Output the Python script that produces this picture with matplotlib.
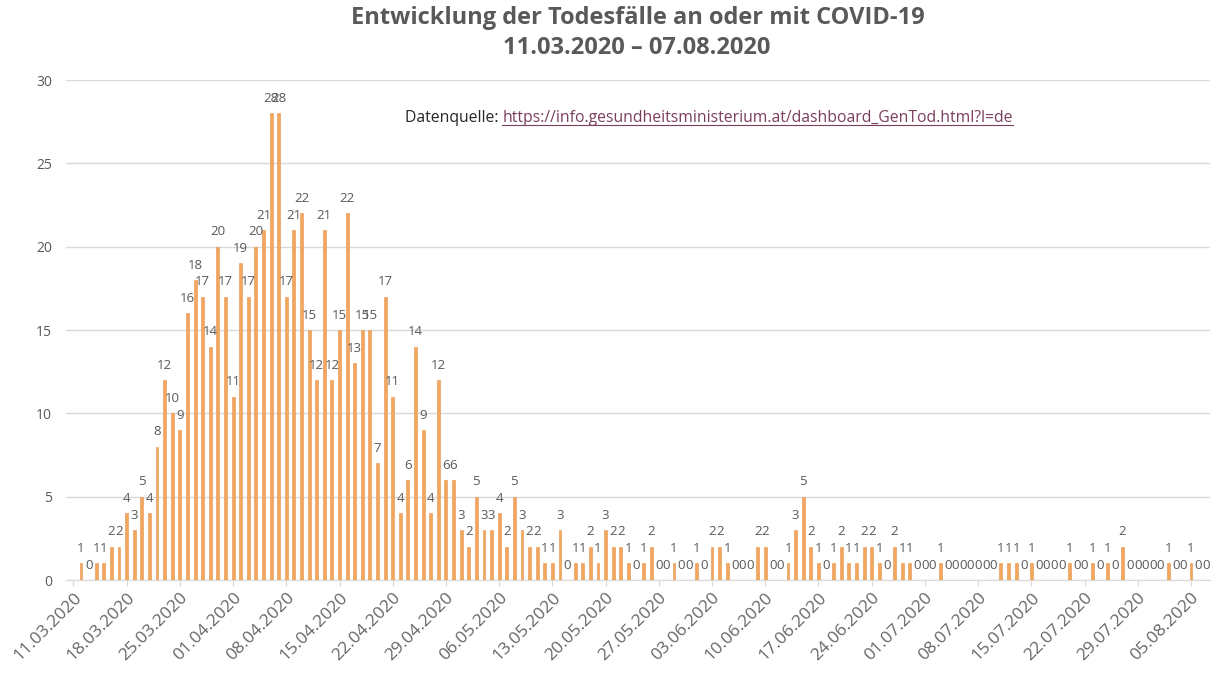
import numpy as np
import pandas as pd
import matplotlib
matplotlib.use('Agg')
import matplotlib.pyplot as plt
from matplotlib.lines import Line2D

# Tägliche Todesfälle ab 12.03.2020 bis 07.08.2020
start_date = '2020-03-12'
deaths = [1, 0, 1, 1, 2, 2, 4, 3, 5, 4,
          8, 12, 10, 9, 16, 18, 17, 14, 20, 17,
          11, 19, 17, 20, 21, 28, 28, 17, 21, 22,
          15, 12, 21, 12, 15, 22, 13, 15, 15, 7,
          17, 11, 4, 6, 14, 9, 4, 12, 6, 6,
          3, 2, 5, 3, 3, 4, 2, 5, 3, 2,
          2, 1, 1, 3, 0, 1, 1, 2, 1, 3,
          2, 2, 1, 0, 1, 2, 0, 0, 1, 0,
          0, 1, 0, 2, 2, 1, 0, 0, 0, 2,
          2, 0, 0, 1, 3, 5, 2, 1, 0, 1,
          2, 1, 1, 2, 2, 1, 0, 2, 1, 1,
          0, 0, 0, 1, 0, 0, 0, 0, 0, 0,
          0, 1, 1, 1, 0, 1, 0, 0, 0, 0,
          1, 0, 0, 1, 0, 1, 0, 2, 0, 0,
          0, 0, 0, 1, 0, 0, 1, 0, 0]

# Achsenbeschriftung: wöchentlich ab 11.03.2020
tick_start = '2020-03-11'
tick_end = '2020-08-05'

title_1 = 'Entwicklung der Todesfälle an oder mit COVID-19'
title_2 = '11.03.2020 \u2013 07.08.2020'
source_label = 'Datenquelle: '
source_url = 'https://info.gesundheitsministerium.at/dashboard_GenTod.html?l=de'

plt.rcParams['font.family'] = ['Open Sans', 'DejaVu Sans']
grey = '#595959'

dates = pd.date_range(start_date, periods=len(deaths), freq='D')
origin = pd.Timestamp(tick_start)
x = (dates - origin).days.values

tick_dates = pd.date_range(tick_start, tick_end, freq='7D')
tick_x = (tick_dates - origin).days.values
tick_labels = [d.strftime('%d.%m.%Y') for d in tick_dates]

fig = plt.figure(figsize=(12.19, 6.84), dpi=100)
ax = fig.add_axes([0.054, 0.152, 0.9386, 0.731])

ax.bar(x, deaths, width=0.38, color='#F2A65E', edgecolor='#E59448', linewidth=0.4, zorder=3)

for xi, v in zip(x, deaths):
    ax.annotate(str(v), (xi, v), xytext=(0, 6), textcoords='offset points',
                ha='center', va='bottom', fontsize=9.5, color=grey, zorder=4)

ax.set_xlim(-1, 149.5)
ax.set_ylim(0, 30)
ax.set_yticks(range(0, 31, 5))
ax.set_xticks(tick_x)
ax.set_xticklabels(tick_labels, rotation=45, ha='right', rotation_mode='anchor')

ax.grid(axis='y', color='#D9D9D9', linewidth=1, zorder=0)
for s in ['top', 'right', 'left']:
    ax.spines[s].set_visible(False)
ax.spines['bottom'].set_color('#D9D9D9')
ax.tick_params(axis='y', length=0, labelsize=10, labelcolor=grey, pad=10)
ax.tick_params(axis='x', length=4, color='#D9D9D9', labelsize=12.5, labelcolor='#666666', pad=3)

fig.text(0.523, 1 - 18 / 684, title_1, ha='center', va='center', fontsize=17,
         fontweight='bold', color=grey)
fig.text(0.522, 1 - 48 / 684, title_2, ha='center', va='center', fontsize=17,
         fontweight='bold', color=grey)

# Datenquelle mit unterstrichenem Link
t1 = fig.text(0.332, 1 - 118 / 684, source_label, ha='left', va='center', fontsize=11.3,
              color='#262626')
fig.canvas.draw()
bb = t1.get_window_extent()
t2 = fig.text(bb.x1 / fig.bbox.width, 1 - 118 / 684, source_url, ha='left', va='center',
              fontsize=11.3, color='#7B3F5E')
fig.canvas.draw()
bb2 = t2.get_window_extent()
uy = (bb2.y0 + 1) / fig.bbox.height
fig.add_artist(Line2D([bb2.x0 / fig.bbox.width, bb2.x1 / fig.bbox.width], [uy, uy],
                      color='#7B3F5E', linewidth=0.8))

fig.savefig('out.png', dpi=100)
